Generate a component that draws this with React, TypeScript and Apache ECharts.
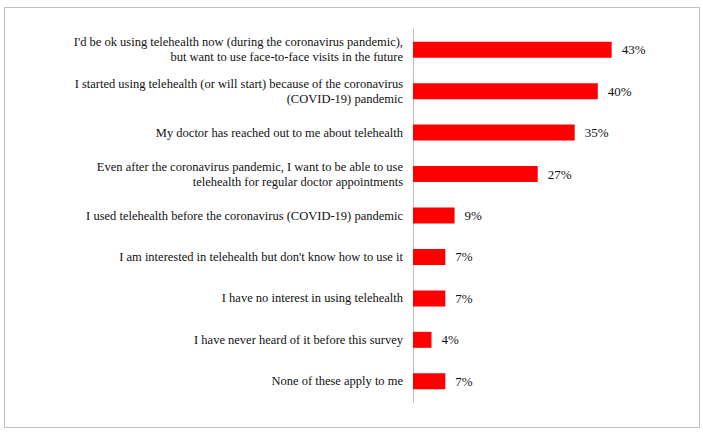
import React, { useEffect, useRef } from "react";
import * as echarts from "echarts";

const categories = [
  "I'd be ok using telehealth now (during the coronavirus pandemic),\nbut want to use face-to-face visits in the future",
  "I started using telehealth (or will start) because of the coronavirus\n(COVID-19) pandemic",
  "My doctor has reached out to me about telehealth",
  "Even after the coronavirus pandemic, I want to be able to use\ntelehealth for regular doctor appointments",
  "I used telehealth before the coronavirus (COVID-19) pandemic",
  "I am interested in telehealth but don't know how to use it",
  "I have no interest in using telehealth",
  "I have never heard of it before this survey",
  "None of these apply to me",
];
const values = [43, 40, 35, 27, 9, 7, 7, 4, 7];

const FONT = "Liberation Serif";

export default function App() {
  const ref = useRef<HTMLDivElement>(null);
  useEffect(() => {
    if (!ref.current) return;
    const chart = echarts.init(ref.current, null, { renderer: "svg" });
    chart.setOption({
      animation: false,
      backgroundColor: "#ffffff",
      graphic: [
        {
          type: "rect",
          shape: { x: 4.5, y: 7.5, width: 695, height: 420 },
          style: { fill: "none", stroke: "#bfbfbf", lineWidth: 1 },
          silent: true,
        },
      ],
      grid: { left: 413, right: 59, top: 29, bottom: 31, containLabel: false },
      xAxis: {
        type: "value",
        min: 0,
        max: 50,
        show: false,
      },
      yAxis: {
        type: "category",
        data: categories,
        inverse: true,
        axisLine: { show: true, lineStyle: { color: "#bfbfbf", width: 1 } },
        axisTick: { show: false },
        axisLabel: {
          margin: 10,
          color: "#111111",
          fontFamily: FONT,
          fontSize: 12.5,
          lineHeight: 15,
          align: "right",
        },
      },
      series: [
        {
          type: "bar",
          data: values,
          barWidth: 16,
          itemStyle: { color: "#ff0000" },
          label: {
            show: true,
            position: "right",
            distance: 10,
            formatter: "{c}%",
            color: "#111111",
            fontFamily: FONT,
            fontSize: 13,
          },
        },
      ],
    });
    return () => chart.dispose();
  }, []);
  return (
    <div
      ref={ref}
      style={{ position: "fixed", left: 0, top: 0, width: 703, height: 433 }}
    />
  );
}
